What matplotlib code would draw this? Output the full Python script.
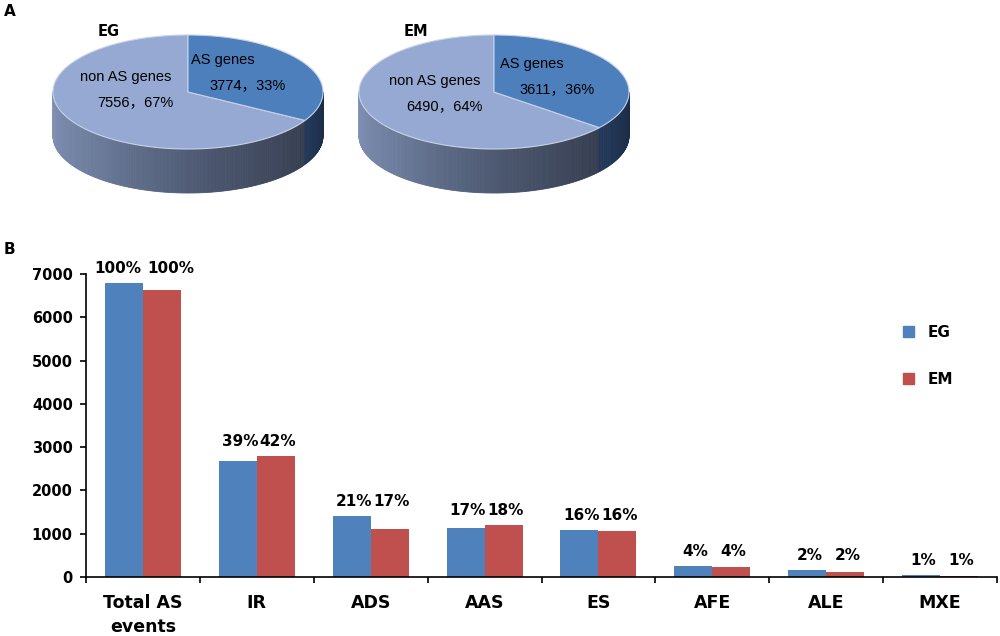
import numpy as np
import matplotlib
matplotlib.use("Agg")
import matplotlib.pyplot as plt
from matplotlib.patches import Polygon
from matplotlib.colors import LinearSegmentedColormap
from matplotlib.patches import Patch

# ---- data ----
pie_names = ["EG", "EM"]
pie_as_genes = [3774, 3611]
pie_non_as_genes = [7556, 6490]
pie_as_text = ["3774\uff0c33%", "3611\uff0c36%"]
pie_non_text = ["7556\uff0c67%", "6490\uff0c64%"]

categories = ["Total AS\nevents", "IR", "ADS", "AAS", "ES", "AFE", "ALE", "MXE"]
eg_counts = [6800, 2690, 1410, 1125, 1085, 255, 155, 45]
em_counts = [6640, 2795, 1115, 1200, 1070, 240, 115, 30]
eg_pct = ["100%", "39%", "21%", "17%", "16%", "4%", "2%", "1%"]
em_pct = ["100%", "42%", "17%", "18%", "16%", "4%", "2%", "1%"]

EG_COLOR = "#4f81bd"
EM_COLOR = "#c0504d"
LABEL_FONT = ["Liberation Sans", "Noto Sans CJK SC", "DejaVu Sans"]

fig = plt.figure(figsize=(10, 6.36), dpi=100)

# ---- panel A: 3D-looking pies, drawn in pixel units ----
ax_pie = fig.add_axes((0, 1 - 230 / 636, 1, 230 / 636))
ax_pie.set_xlim(0, 1000)
ax_pie.set_ylim(230, 0)
ax_pie.axis("off")

side_cmap = LinearSegmentedColormap.from_list(
    "side", ["#8494b8", "#6a7a99", "#4b566e", "#363e50"])
as_side_cmap = LinearSegmentedColormap.from_list("as_side", ["#24395a", "#1a2b45"])


def draw_pie3d(ax, cx, cy, rx, ry, depth, as_val, non_val):
    frac = as_val / (as_val + non_val)
    end = 90 - 360 * frac  # AS slice goes clockwise from the top

    def pt(t):
        r = np.radians(t)
        return cx + rx * np.cos(r), cy - ry * np.sin(r)

    # side wall (front half only)
    ts = np.linspace(180, 360, 181)
    end_mod = end % 360
    for a, b in zip(ts[:-1], ts[1:]):
        x0, y0 = pt(a)
        x1, y1 = pt(b)
        mid = (a + b) / 2
        if mid > end_mod:
            col = as_side_cmap((mid - end_mod) / (360 - end_mod))
        else:
            col = side_cmap((mid - 180) / (end_mod - 180))
        ax.add_patch(Polygon([(x0, y0), (x1, y1), (x1, y1 + depth), (x0, y0 + depth)],
                             closed=True, facecolor=col, edgecolor=col, lw=0.6))
    # top faces
    t_as = np.linspace(90, end, 200)
    t_non = np.linspace(end, -270, 400)
    for tt, col in ((t_non, "#95a9d2"), (t_as, "#4c7fbc")):
        verts = [(cx, cy)] + [pt(t) for t in tt]
        ax.add_patch(Polygon(verts, closed=True, facecolor=col,
                             edgecolor="#c8d2e6", lw=0.8))


pie_centers = [(188, 92), (494, 92)]
text_shift = [(0, 0), (3, 4)]
for i, (cx, cy) in enumerate(pie_centers):
    draw_pie3d(ax_pie, cx, cy, 135, 57, 44, pie_as_genes[i], pie_non_as_genes[i])
    dx, dy = text_shift[i]
    ax_pie.text(cx - 90, cy - 60, pie_names[i], fontsize=10.5, fontweight="bold",
                family="DejaVu Sans", ha="left", va="center")
    ax_pie.text(cx - 62 + dx, cy - 15 + dy, "non AS genes", fontsize=10.5, family=LABEL_FONT,
                ha="center", va="center")
    ax_pie.text(cx - 53 + dx, cy + 10 + dy, pie_non_text[i], fontsize=10.5, family=LABEL_FONT,
                ha="center", va="center")
    ax_pie.text(cx + 35 + dx, cy - 32 + dy, "AS genes", fontsize=10.5, family=LABEL_FONT,
                ha="center", va="center")
    ax_pie.text(cx + 60 + dx, cy - 7 + dy, pie_as_text[i], fontsize=10.5, family=LABEL_FONT,
                ha="center", va="center")

fig.text(0.004, 1 - 12 / 636, "A", fontsize=11, fontweight="bold",
         family="DejaVu Sans", ha="left", va="center")
fig.text(0.004, 1 - 250 / 636, "B", fontsize=11, fontweight="bold",
         family="DejaVu Sans", ha="left", va="center")

# ---- panel B: grouped bars ----
ax = fig.add_axes((0.086, 59 / 636, 0.911, 303 / 636))
x = np.arange(len(categories))
w = 1 / 3
ax.bar(x - w / 2, eg_counts, width=w, color=EG_COLOR, label="EG")
ax.bar(x + w / 2, em_counts, width=w, color=EM_COLOR, label="EM")

for i in range(len(categories)):
    top = max(eg_counts[i], em_counts[i])
    if len(eg_pct[i]) > 3:
        # wide labels: push apart around the category centre
        ax.annotate(eg_pct[i], (x[i], top), xytext=(-1, 5), textcoords="offset points",
                    ha="right", va="bottom", fontsize=11, fontweight="bold")
        ax.annotate(em_pct[i], (x[i], top), xytext=(3, 5), textcoords="offset points",
                    ha="left", va="bottom", fontsize=11, fontweight="bold")
    else:
        ax.annotate(eg_pct[i], (x[i] - w / 2, top), xytext=(1.5, 5), textcoords="offset points",
                    ha="center", va="bottom", fontsize=11, fontweight="bold")
        ax.annotate(em_pct[i], (x[i] + w / 2, top), xytext=(1.5, 5), textcoords="offset points",
                    ha="center", va="bottom", fontsize=11, fontweight="bold")

ax.set_xlim(-0.5, len(categories) - 0.5)
ax.set_ylim(0, 7000)
ax.set_yticks(np.arange(0, 7001, 1000))
ax.set_xticks(x)
ax.set_xticklabels(categories, fontsize=12.5, fontweight="bold", linespacing=1.45)
ax.set_xticks(np.arange(-0.5, len(categories), 1), minor=True)
ax.tick_params(axis="x", which="major", length=0, pad=12)
ax.tick_params(axis="x", which="minor", length=4, width=1.2, direction="out")
ax.tick_params(axis="y", length=4.5, width=1.2, direction="out", labelsize=10.5, pad=5)
for lab in ax.get_yticklabels():
    lab.set_fontweight("bold")
for s in ("top", "right"):
    ax.spines[s].set_visible(False)
for s in ("left", "bottom"):
    ax.spines[s].set_linewidth(1.2)

handles = [Patch(color=EG_COLOR), Patch(color=EM_COLOR)]
leg = fig.legend(handles, ["EG", "EM"], loc="upper left", bbox_to_anchor=(0.903, 0.489),
                 frameon=False, borderpad=0, borderaxespad=0, handlelength=0.7,
                 handleheight=0.7, handletextpad=0.9, labelspacing=2.1,
                 prop={"size": 11, "weight": "bold"})

fig.savefig("out.png", dpi=100)
